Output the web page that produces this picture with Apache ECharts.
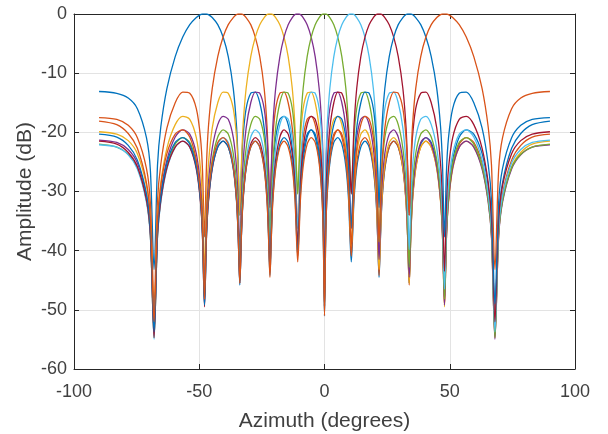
<!DOCTYPE html>
<html>
<head>
<meta charset="utf-8">
<script src="https://cdn.jsdelivr.net/npm/echarts@6/dist/echarts.min.js"></script>
<style>
html,body{margin:0;padding:0;background:#fff;}
#chart{width:608px;height:434px;}
</style>
</head>
<body>
<div id="chart"></div>
<script>
// Azimuth sample points (degrees)
const azimuth = [
-90,-82.92,-78.35,-74.70,-71.08,-69.51, -68.04,
-66.66,-65.35,-62.92,-59.60,-56.59,-53.79,-51.17,-49.51,-48.70, -47.90,
-47.11,-46.34,-44.82,-42.61,-40.48,-38.42,-36.41,-35.10,-34.45, -33.81,
-33.18,-32.54,-31.29,-29.44,-27.63,-25.84,-24.08,-22.93,-22.35, -21.78,
-21.21,-20.64,-19.50,-17.82,-16.16,-14.50,-12.86,-11.77,-11.23, -10.69,
-10.15,-9.61,-8.53,-6.92,-5.32,-3.72,-2.13,-1.06,-0.53, 0,
0.53,1.06,2.13,3.72,5.32,6.92,8.53,9.61,10.15, 10.69,
11.23,11.77,12.86,14.50,16.16,17.82,19.50,20.64,21.21, 21.78,
22.35,22.93,24.08,25.84,27.63,29.44,31.29,32.54,33.18, 33.81,
34.45,35.10,36.41,38.42,40.48,42.61,44.82,46.34,47.11, 47.90,
48.70,49.51,51.17,53.79,56.59,59.60,62.92,65.35,66.66, 68.04,
69.51,71.08,74.70,78.35,82.92,90];

// Beam patterns (dB), one array per steering direction
const beamM48 = [
-13.1,-13.4,-14.2,-16.0,-20.9,-26.4, -43.2,
-25.5,-19.1,-12.6,-7.2,-3.9,-1.8,-0.6,-0.1,0, 0,
0,-0.1,-0.6,-1.8,-3.9,-7.2,-12.6,-19.1,-25.5, -34.0,
-26.4,-20.9,-16.0,-13.4,-13.2,-15.0,-19.3,-25.4,-31.5, -38.5,
-31.9,-26.1,-20.9,-17.8,-17.3,-18.7,-22.7,-28.5,-34.6, -39.2,
-34.8,-29.0,-23.6,-20.3,-19.6,-20.8,-24.7,-30.4,-36.4, -51.0,
-36.5,-30.7,-25.2,-21.7,-20.9,-22.0,-25.8,-31.4,-37.4, -41.9,
-37.4,-31.5,-26.0,-22.5,-21.5,-22.5,-26.2,-31.8,-37.7, -44.5,
-37.7,-31.8,-26.2,-22.5,-21.5,-22.5,-26.0,-31.5,-37.4, -45.5,
-37.4,-31.4,-25.8,-22.0,-20.9,-21.7,-25.2,-30.7,-36.5, -48.2,
-36.4,-30.4,-24.7,-20.8,-19.6,-20.3,-23.6,-29.0,-34.8, -52.0,
-34.6,-28.5,-22.7,-20.2,-18.7,-18.1];

const beamM34 = [
-17.5,-17.8,-18.8,-20.9,-26.1,-31.9, -49.0,
-31.5,-25.4,-19.3,-15.0,-13.2,-13.4,-16.0,-20.9,-26.4, -37.7,
-25.5,-19.1,-12.6,-7.2,-3.9,-1.8,-0.6,-0.1,0, 0,
0,-0.1,-0.6,-1.8,-3.9,-7.2,-12.6,-19.1,-25.5, -32.7,
-26.4,-20.9,-16.0,-13.4,-13.2,-15.0,-19.3,-25.4,-31.5, -36.2,
-31.9,-26.1,-20.9,-17.8,-17.3,-18.7,-22.7,-28.5,-34.6, -49.3,
-34.8,-29.0,-23.6,-20.3,-19.6,-20.8,-24.7,-30.4,-36.4, -40.9,
-36.5,-30.7,-25.2,-21.7,-20.9,-22.0,-25.8,-31.4,-37.4, -44.2,
-37.4,-31.5,-26.0,-22.5,-21.5,-22.5,-26.2,-31.8,-37.7, -45.8,
-37.7,-31.8,-26.2,-22.5,-21.5,-22.5,-26.0,-31.5,-37.4, -49.2,
-37.4,-31.4,-25.8,-22.0,-20.9,-21.7,-25.2,-30.7,-36.5, -53.7,
-36.4,-30.4,-24.7,-22.2,-20.8,-20.3];

const beamM22 = [
-19.9,-20.3,-21.4,-23.6,-29.0,-34.8, -52.0,
-34.6,-28.5,-22.7,-18.7,-17.3,-17.8,-20.9,-26.1,-31.9, -43.5,
-31.5,-25.4,-19.3,-15.0,-13.2,-13.4,-16.0,-20.9,-26.4, -34.0,
-25.5,-19.1,-12.6,-7.2,-3.9,-1.8,-0.6,-0.1,0, 0,
0,-0.1,-0.6,-1.8,-3.9,-7.2,-12.6,-19.1,-25.5, -30.4,
-26.4,-20.9,-16.0,-13.4,-13.2,-15.0,-19.3,-25.4,-31.5, -46.3,
-31.9,-26.1,-20.9,-17.8,-17.3,-18.7,-22.7,-28.5,-34.6, -39.2,
-34.8,-29.0,-23.6,-20.3,-19.6,-20.8,-24.7,-30.4,-36.4, -43.2,
-36.5,-30.7,-25.2,-21.7,-20.9,-22.0,-25.8,-31.4,-37.4, -45.5,
-37.4,-31.5,-26.0,-22.5,-21.5,-22.5,-26.2,-31.8,-37.7, -49.5,
-37.7,-31.8,-26.2,-22.5,-21.5,-22.5,-26.0,-31.5,-37.4, -54.7,
-37.4,-31.4,-25.8,-23.4,-22.0,-21.5];

const beamM11 = [
-21.3,-21.7,-22.9,-25.2,-30.7,-36.5, -53.7,
-36.4,-30.4,-24.7,-20.8,-19.6,-20.3,-23.6,-29.0,-34.8, -46.5,
-34.6,-28.5,-22.7,-18.7,-17.3,-17.8,-20.9,-26.1,-31.9, -39.8,
-31.5,-25.4,-19.3,-15.0,-13.2,-13.4,-16.0,-20.9,-26.4, -32.7,
-25.5,-19.1,-12.6,-7.2,-3.9,-1.8,-0.6,-0.1,0, 0,
0,-0.1,-0.6,-1.8,-3.9,-7.2,-12.6,-19.1,-25.5, -40.5,
-26.4,-20.9,-16.0,-13.4,-13.2,-15.0,-19.3,-25.4,-31.5, -36.2,
-31.9,-26.1,-20.9,-17.8,-17.3,-18.7,-22.7,-28.5,-34.6, -41.5,
-34.8,-29.0,-23.6,-20.3,-19.6,-20.8,-24.7,-30.4,-36.4, -44.5,
-36.5,-30.7,-25.2,-21.7,-20.9,-22.0,-25.8,-31.4,-37.4, -49.2,
-37.4,-31.5,-26.0,-22.5,-21.5,-22.5,-26.2,-31.8,-37.7, -55.0,
-37.7,-31.8,-26.2,-23.8,-22.5,-22.1];

const beam0 = [
-22.0,-22.5,-23.7,-26.0,-31.5,-37.4, -54.7,
-37.4,-31.4,-25.8,-22.0,-20.9,-21.7,-25.2,-30.7,-36.5, -48.2,
-36.4,-30.4,-24.7,-20.8,-19.6,-20.3,-23.6,-29.0,-34.8, -42.8,
-34.6,-28.5,-22.7,-18.7,-17.3,-17.8,-20.9,-26.1,-31.9, -38.5,
-31.5,-25.4,-19.3,-15.0,-13.2,-13.4,-16.0,-20.9,-26.4, -30.4,
-25.5,-19.1,-12.6,-7.2,-3.9,-1.8,-0.6,-0.1,0, 0,
0,-0.1,-0.6,-1.8,-3.9,-7.2,-12.6,-19.1,-25.5, -30.4,
-26.4,-20.9,-16.0,-13.4,-13.2,-15.0,-19.3,-25.4,-31.5, -38.5,
-31.9,-26.1,-20.9,-17.8,-17.3,-18.7,-22.7,-28.5,-34.6, -42.8,
-34.8,-29.0,-23.6,-20.3,-19.6,-20.8,-24.7,-30.4,-36.4, -48.2,
-36.5,-30.7,-25.2,-21.7,-20.9,-22.0,-25.8,-31.4,-37.4, -54.7,
-37.4,-31.5,-26.0,-23.7,-22.5,-22.0];

const beamP11 = [
-22.1,-22.5,-23.8,-26.2,-31.8,-37.7, -55.0,
-37.7,-31.8,-26.2,-22.5,-21.5,-22.5,-26.0,-31.5,-37.4, -49.2,
-37.4,-31.4,-25.8,-22.0,-20.9,-21.7,-25.2,-30.7,-36.5, -44.5,
-36.4,-30.4,-24.7,-20.8,-19.6,-20.3,-23.6,-29.0,-34.8, -41.5,
-34.6,-28.5,-22.7,-18.7,-17.3,-17.8,-20.9,-26.1,-31.9, -36.2,
-31.5,-25.4,-19.3,-15.0,-13.2,-13.4,-16.0,-20.9,-26.4, -40.5,
-25.5,-19.1,-12.6,-7.2,-3.9,-1.8,-0.6,-0.1,0, 0,
0,-0.1,-0.6,-1.8,-3.9,-7.2,-12.6,-19.1,-25.5, -32.7,
-26.4,-20.9,-16.0,-13.4,-13.2,-15.0,-19.3,-25.4,-31.5, -39.8,
-31.9,-26.1,-20.9,-17.8,-17.3,-18.7,-22.7,-28.5,-34.6, -46.5,
-34.8,-29.0,-23.6,-20.3,-19.6,-20.8,-24.7,-30.4,-36.4, -53.7,
-36.5,-30.7,-25.2,-22.9,-21.7,-21.3];

const beamP22 = [
-21.5,-22.0,-23.4,-25.8,-31.4,-37.4, -54.7,
-37.4,-31.5,-26.0,-22.5,-21.5,-22.5,-26.2,-31.8,-37.7, -49.5,
-37.7,-31.8,-26.2,-22.5,-21.5,-22.5,-26.0,-31.5,-37.4, -45.5,
-37.4,-31.4,-25.8,-22.0,-20.9,-21.7,-25.2,-30.7,-36.5, -43.2,
-36.4,-30.4,-24.7,-20.8,-19.6,-20.3,-23.6,-29.0,-34.8, -39.2,
-34.6,-28.5,-22.7,-18.7,-17.3,-17.8,-20.9,-26.1,-31.9, -46.3,
-31.5,-25.4,-19.3,-15.0,-13.2,-13.4,-16.0,-20.9,-26.4, -30.4,
-25.5,-19.1,-12.6,-7.2,-3.9,-1.8,-0.6,-0.1,0, 0,
0,-0.1,-0.6,-1.8,-3.9,-7.2,-12.6,-19.1,-25.5, -34.0,
-26.4,-20.9,-16.0,-13.4,-13.2,-15.0,-19.3,-25.4,-31.5, -43.5,
-31.9,-26.1,-20.9,-17.8,-17.3,-18.7,-22.7,-28.5,-34.6, -52.0,
-34.8,-29.0,-23.6,-21.4,-20.3,-19.9];

const beamP34 = [
-20.3,-20.8,-22.2,-24.7,-30.4,-36.4, -53.7,
-36.5,-30.7,-25.2,-21.7,-20.9,-22.0,-25.8,-31.4,-37.4, -49.2,
-37.4,-31.5,-26.0,-22.5,-21.5,-22.5,-26.2,-31.8,-37.7, -45.8,
-37.7,-31.8,-26.2,-22.5,-21.5,-22.5,-26.0,-31.5,-37.4, -44.2,
-37.4,-31.4,-25.8,-22.0,-20.9,-21.7,-25.2,-30.7,-36.5, -40.9,
-36.4,-30.4,-24.7,-20.8,-19.6,-20.3,-23.6,-29.0,-34.8, -49.3,
-34.6,-28.5,-22.7,-18.7,-17.3,-17.8,-20.9,-26.1,-31.9, -36.2,
-31.5,-25.4,-19.3,-15.0,-13.2,-13.4,-16.0,-20.9,-26.4, -32.7,
-25.5,-19.1,-12.6,-7.2,-3.9,-1.8,-0.6,-0.1,0, 0,
0,-0.1,-0.6,-1.8,-3.9,-7.2,-12.6,-19.1,-25.5, -37.7,
-26.4,-20.9,-16.0,-13.4,-13.2,-15.0,-19.3,-25.4,-31.5, -49.0,
-31.9,-26.1,-20.9,-18.8,-17.8,-17.5];

const beamP48 = [
-18.1,-18.7,-20.2,-22.7,-28.5,-34.6, -52.0,
-34.8,-29.0,-23.6,-20.3,-19.6,-20.8,-24.7,-30.4,-36.4, -48.2,
-36.5,-30.7,-25.2,-21.7,-20.9,-22.0,-25.8,-31.4,-37.4, -45.5,
-37.4,-31.5,-26.0,-22.5,-21.5,-22.5,-26.2,-31.8,-37.7, -44.5,
-37.7,-31.8,-26.2,-22.5,-21.5,-22.5,-26.0,-31.5,-37.4, -41.9,
-37.4,-31.4,-25.8,-22.0,-20.9,-21.7,-25.2,-30.7,-36.5, -51.0,
-36.4,-30.4,-24.7,-20.8,-19.6,-20.3,-23.6,-29.0,-34.8, -39.2,
-34.6,-28.5,-22.7,-18.7,-17.3,-17.8,-20.9,-26.1,-31.9, -38.5,
-31.5,-25.4,-19.3,-15.0,-13.2,-13.4,-16.0,-20.9,-26.4, -34.0,
-25.5,-19.1,-12.6,-7.2,-3.9,-1.8,-0.6,-0.1,0, 0,
0,-0.1,-0.6,-1.8,-3.9,-7.2,-12.6,-19.1,-25.5, -43.2,
-26.4,-20.9,-16.0,-14.2,-13.4,-13.1];

const beams = [beamM48, beamM34, beamM22, beamM11, beam0, beamP11, beamP22, beamP34, beamP48];
const beamColors = ['#0072BD','#D95319','#EDB120','#7E2F8E','#77AC30','#4DBEEE','#A2142F','#0072BD','#D95319'];

const xTicks = {min: -100, max: 100, interval: 50};
const yTicks = {min: -60, max: 0, interval: 10};

const textColor = '#404040';
const axisColor = '#262626';
const font = 'Liberation Sans, Arial, Helvetica, sans-serif';

const chart = echarts.init(document.getElementById('chart'), null, {renderer: 'canvas'});

const series = beams.map((vals, i) => ({
  type: 'line',
  xAxisIndex: 0,
  yAxisIndex: 0,
  data: azimuth.map((a, j) => [a, vals[j]]),
  showSymbol: false,
  symbol: 'none',
  smooth: 0.3,
  silent: true,
  lineStyle: {color: beamColors[i], width: 1.3},
  itemStyle: {color: beamColors[i]},
  emphasis: {disabled: true},
  animation: false,
  z: 2 + i
}));

chart.setOption({
  animation: false,
  backgroundColor: '#ffffff',
  grid: {left: 74, right: 33, top: 14, bottom: 65, containLabel: false, outerBoundsMode: 'none'},
  xAxis: [{
    type: 'value', position: 'bottom',
    min: xTicks.min, max: xTicks.max, interval: xTicks.interval,
    name: 'Azimuth (degrees)', nameLocation: 'middle', nameGap: 42, nameMoveOverlap: false,
    nameTextStyle: {fontSize: 21, color: textColor, fontFamily: font},
    axisLine: {show: true, onZero: false, lineStyle: {color: axisColor, width: 1}},
    axisTick: {show: true, inside: true, length: 5, lineStyle: {color: axisColor}},
    axisLabel: {fontSize: 18, color: textColor, fontFamily: font, margin: 14},
    splitLine: {show: true, lineStyle: {color: '#e3e3e3', width: 1}}
  }, {
    type: 'value', position: 'top',
    min: xTicks.min, max: xTicks.max, interval: xTicks.interval,
    axisLine: {show: true, onZero: false, lineStyle: {color: axisColor, width: 1}},
    axisTick: {show: true, inside: true, length: 5, lineStyle: {color: axisColor}},
    axisLabel: {show: false},
    splitLine: {show: false}
  }],
  yAxis: [{
    type: 'value', position: 'left',
    min: yTicks.min, max: yTicks.max, interval: yTicks.interval,
    name: 'Amplitude (dB)', nameLocation: 'middle', nameGap: 38, nameMoveOverlap: false,
    nameTextStyle: {fontSize: 21, color: textColor, fontFamily: font},
    axisLine: {show: true, onZero: false, lineStyle: {color: axisColor, width: 1}},
    axisTick: {show: true, inside: true, length: 5, lineStyle: {color: axisColor}},
    axisLabel: {fontSize: 18, color: textColor, fontFamily: font, margin: 7},
    splitLine: {show: true, lineStyle: {color: '#e3e3e3', width: 1}}
  }, {
    type: 'value', position: 'right',
    min: yTicks.min, max: yTicks.max, interval: yTicks.interval,
    axisLine: {show: true, onZero: false, lineStyle: {color: axisColor, width: 1}},
    axisTick: {show: true, inside: true, length: 5, lineStyle: {color: axisColor}},
    axisLabel: {show: false},
    splitLine: {show: false}
  }],
  series: series
});
</script>
</body>
</html>
